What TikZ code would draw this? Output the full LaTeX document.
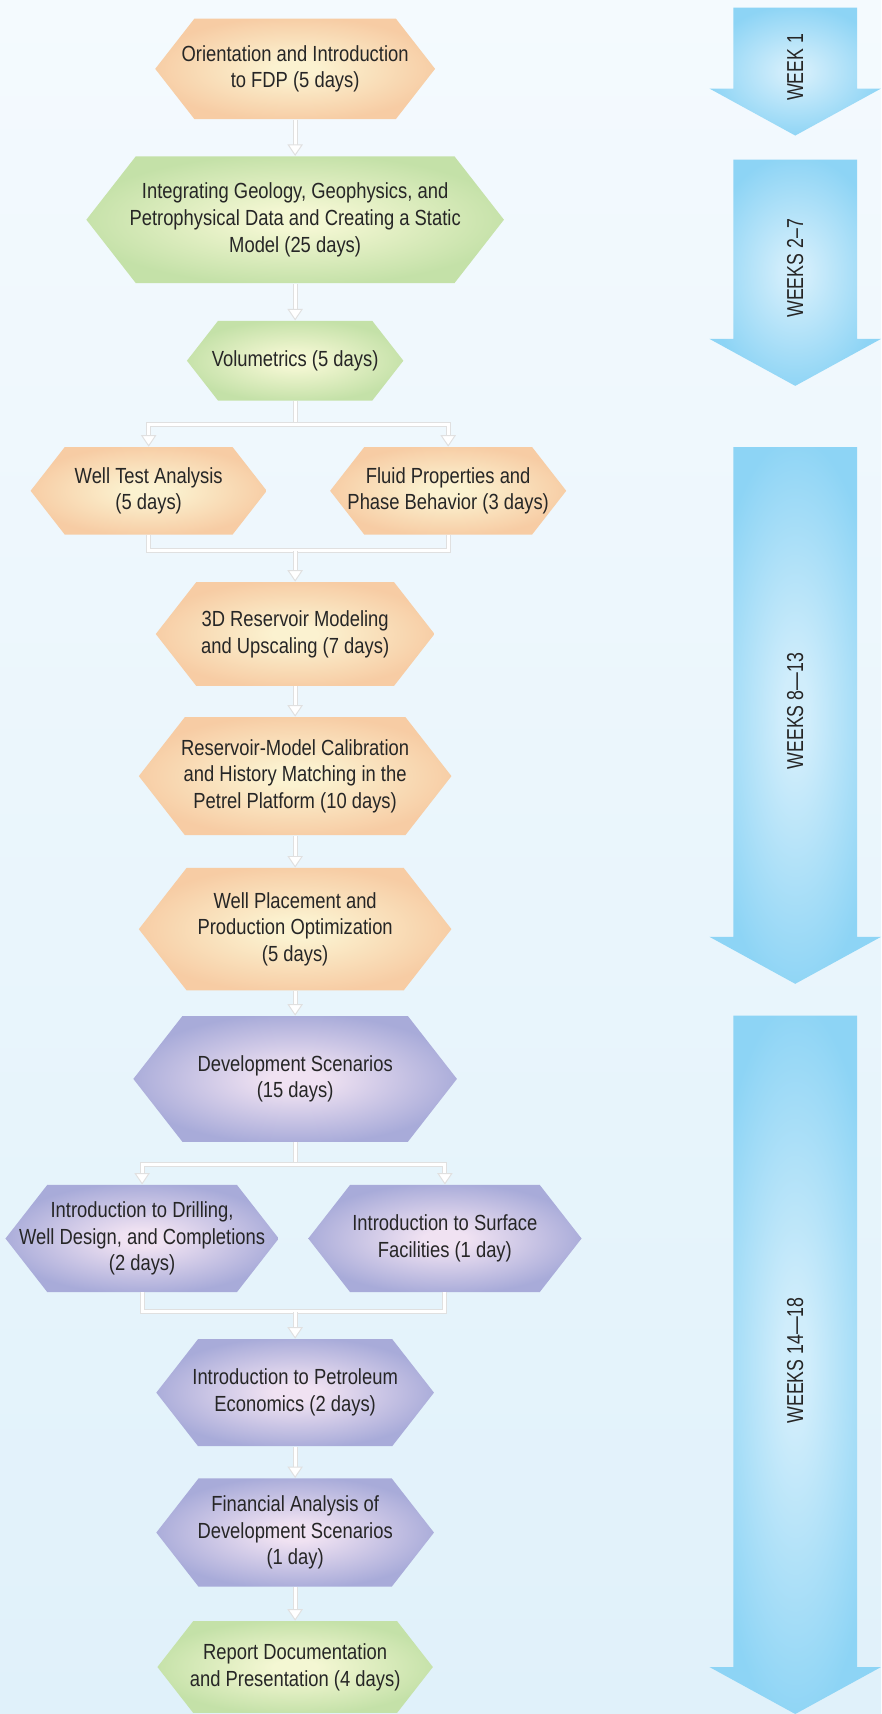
\documentclass[tikz,border=0pt]{standalone}
\usepackage{fontspec}
\setmainfont{Liberation Sans}[FakeStretch=0.84]
\newfontfamily\weekfont{Liberation Sans}[FakeStretch=0.77]
\usetikzlibrary{arrows.meta}

\definecolor{orngIn}{RGB}{251,242,208}
\definecolor{orngOut}{RGB}{247,204,164}
\definecolor{grnIn}{RGB}{244,247,211}
\definecolor{grnOut}{RGB}{196,225,168}
\definecolor{purpIn}{RGB}{240,226,242}
\definecolor{purpOut}{RGB}{168,171,217}
\definecolor{blueIn}{RGB}{208,237,251}
\definecolor{blueOut}{RGB}{141,212,245}
\definecolor{bgTop}{RGB}{244,250,254}
\definecolor{bgBot}{RGB}{224,241,250}
\colorlet{glowIn}{white}
\colorlet{glowOut}{white}
\pgfdeclareradialshading[glowIn,glowOut]{glow}{\pgfpoint{0bp}{0bp}}{color(0bp)=(glowIn); color(4bp)=(glowIn); color(26bp)=(glowOut); color(50bp)=(glowOut)}

\tikzset{>={Triangle[length=6pt, width=8pt, fill=white]},
  task/.style={inner sep=0pt, align=center, text=black!85, font=\fontsize{11.4}{13.9}\selectfont},
  link/.style={draw=black!12, line width=0.5pt, double=white, double distance=1.6pt},
  conn/.style={link, ->}}

\begin{document}
\begin{tikzpicture}[x=0.02cm, y=-0.02cm]
\useasboundingbox (0,0) rectangle (806,1568);
\shade[top color=bgTop, bottom color=bgBot] (0,0) rectangle (806,1568);

% week arrows
\foreach \ya/\yb/\lbl [count=\k] in {7/81/WEEK 1, 146/310/WEEKS 2–7, 409/857/WEEKS 8—13, 929/1525/WEEKS 14—18}{
  \colorlet{glowIn}{blueIn}\colorlet{glowOut}{blueOut}
  \shade[shading=glow] (671,\ya) -- (784,\ya) -- (784,\yb) -- (806,\yb) -- (727.5,{\yb+43}) -- (649,\yb) -- (671,\yb) -- cycle;
  \node[rotate=90, font=\weekfont\fontsize{12}{14}\selectfont, text=black!85] (wk\k) at (727.5,{(\ya+\yb+43)/2-4}) {\lbl};
}

% tasks
\foreach \nm/\px/\py/\ww/\hh/\col/\txt in {
  orient/270/63/256/92/orng/{Orientation and Introduction\\to FDP (5 days)},
  integ/270/201/382/116/grn/{Integrating Geology, Geophysics, and\\Petrophysical Data and Creating a Static\\Model (25 days)},
  volum/270/330/198/73/grn/{Volumetrics (5 days)},
  wta/136/449/216/80/orng/{Well Test Analysis\\(5 days)},
  fluid/410/449/216/80/orng/{Fluid Properties and\\Phase Behavior (3 days)},
  resm/270/580/255/95/orng/{3D Reservoir Modeling\\and Upscaling (7 days)},
  calib/270/710/286/108/orng/{Reservoir-Model Calibration\\and History Matching in the\\Petrel Platform (10 days)},
  place/270/850/286/112/orng/{Well Placement and\\Production Optimization\\(5 days)},
  devsc/270/987/296/115/purp/{Development Scenarios\\(15 days)},
  drill/130/1133/250/98/purp/{Introduction to Drilling,\\Well Design, and Completions\\(2 days)},
  surf/407/1133/250/98/purp/{Introduction to Surface\\Facilities (1 day)},
  econ/270/1274/254/98/purp/{Introduction to Petroleum\\Economics (2 days)},
  finan/270/1402/254/99/purp/{Financial Analysis of\\Development Scenarios\\(1 day)},
  report/270/1525/252/84/grn/{Report Documentation\\and Presentation (4 days)}}{
  \pgfmathsetmacro\ins{0.39*\hh}
  \pgfmathsetmacro\mw{\ww*0.02}
  \pgfmathsetmacro\mh{\hh*0.02}
  \colorlet{glowIn}{\col In}\colorlet{glowOut}{\col Out}
  \shade[shading=glow] ({\px-\ww/2},\py) -- ({\px-\ww/2+\ins},{\py-\hh/2}) -- ({\px+\ww/2-\ins},{\py-\hh/2}) -- ({\px+\ww/2},\py) -- ({\px+\ww/2-\ins},{\py+\hh/2}) -- ({\px-\ww/2+\ins},{\py+\hh/2}) -- cycle;
  \node[task, minimum width=\mw cm, minimum height=\mh cm] (\nm) at (\px,\py) {\txt};
}

% connectors
\coordinate (splitA) at (270,388);
\coordinate (joinA) at (270,504);
\coordinate (splitB) at (270,1065);
\coordinate (joinB) at (270,1200);
\draw[conn] (orient) -- (integ);
\draw[conn] (integ) -- (volum);
\draw[link] (volum) -- (splitA);
\draw[conn] (splitA) -| (wta);
\draw[conn] (splitA) -| (fluid);
\draw[link] (wta) |- (joinA) -| (fluid);
\draw[conn] (joinA) -- (resm);
\draw[conn] (resm) -- (calib);
\draw[conn] (calib) -- (place);
\draw[conn] (place) -- (devsc);
\draw[link] (devsc) -- (splitB);
\draw[conn] (splitB) -| (drill);
\draw[conn] (splitB) -| (surf);
\draw[link] (drill) |- (joinB) -| (surf);
\draw[conn] (joinB) -- (econ);
\draw[conn] (econ) -- (finan);
\draw[conn] (finan) -- (report);
\end{tikzpicture}
\end{document}
